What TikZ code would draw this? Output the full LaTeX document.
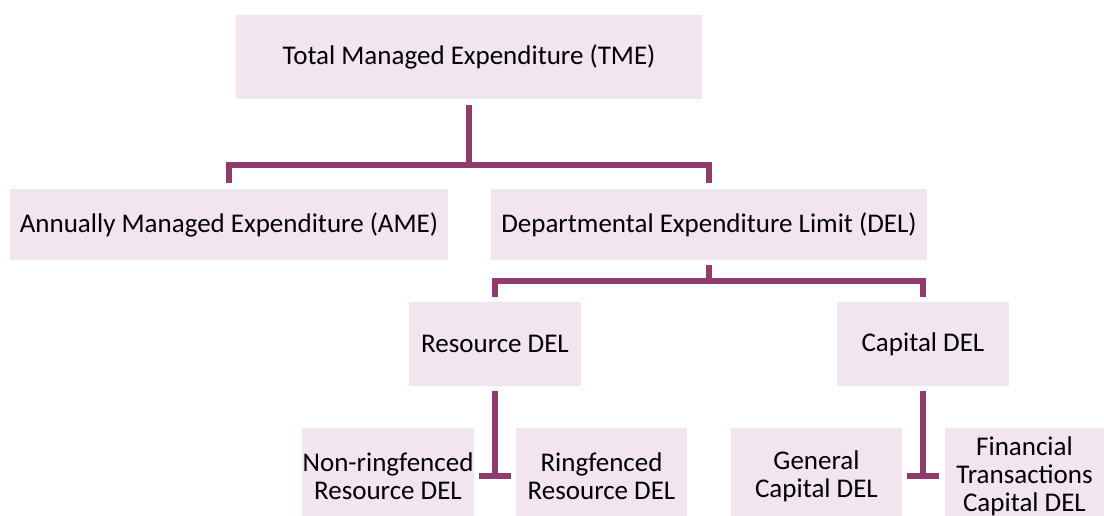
\documentclass[tikz,border=0pt]{standalone}
\usepackage{fontspec}
\setmainfont{Carlito}
\usetikzlibrary{calc}
\definecolor{linec}{RGB}{142,59,110}
\definecolor{boxc}{RGB}{243,229,239}
\begin{document}
\begin{tikzpicture}[x=1pt,y=1pt,
  box/.style={fill=boxc,draw=none,inner sep=0pt,align=center,font=\fontsize{27}{28}\selectfont},
  conn/.style={draw=linec,line width=5.5pt,line cap=butt,line join=miter}]
\useasboundingbox[fill=white] (0,0) rectangle (1104,-516);
\node[box,minimum width=466,minimum height=84] (tme) at (469,-57) {Total Managed Expenditure (TME)};
\node[box,minimum width=438,minimum height=71] (ame) at (229,-224.5) {Annually Managed Expenditure (AME)};
\node[box,minimum width=436,minimum height=71] (del) at (709,-224.5) {Departmental Expenditure Limit (DEL)};
\node[box,minimum width=172,minimum height=84] (res) at (495,-344) {Resource DEL};
\node[box,minimum width=172,minimum height=84] (cap) at (923,-344) {Capital DEL};
\node[box,minimum width=172,minimum height=96] (nrf) at (388,-476) {Non-ringfenced\\Resource DEL};
\node[box,minimum width=171,minimum height=96] (rf) at (601.5,-476) {Ringfenced\\Resource DEL};
\node[box,minimum width=171,minimum height=96] (gen) at (816.5,-476) {General\\Capital DEL};
\node[box,minimum width=159,minimum height=96] (fin) at (1024.5,-476) {Financial\\Transactions\\Capital DEL};
% TME tree
\coordinate (j1) at (469,-165);
\draw[conn] ($(tme.south)+(0,-6)$) -- (j1);
\draw[conn] ($(ame.north)+(0,6)$) |- (j1) -| ($(del.north)+(0,6)$);
% DEL tree
\coordinate (j2) at (709,-281);
\draw[conn] ($(del.south)+(0,-5)$) -- (j2);
\draw[conn] ($(res.north)+(0,5)$) |- (j2) -| ($(cap.north)+(0,5)$);
% Resource T
\coordinate (t1) at (495,-476);
\draw[conn] ($(res.south)+(0,-5)$) -- (t1);
\draw[conn] ($(t1)+(-16,0)$) -- ($(t1)+(16,0)$);
% Capital T
\coordinate (t2) at (923,-476);
\draw[conn] ($(cap.south)+(0,-5)$) -- (t2);
\draw[conn] ($(t2)+(-16,0)$) -- ($(t2)+(16,0)$);
\end{tikzpicture}
\end{document}
